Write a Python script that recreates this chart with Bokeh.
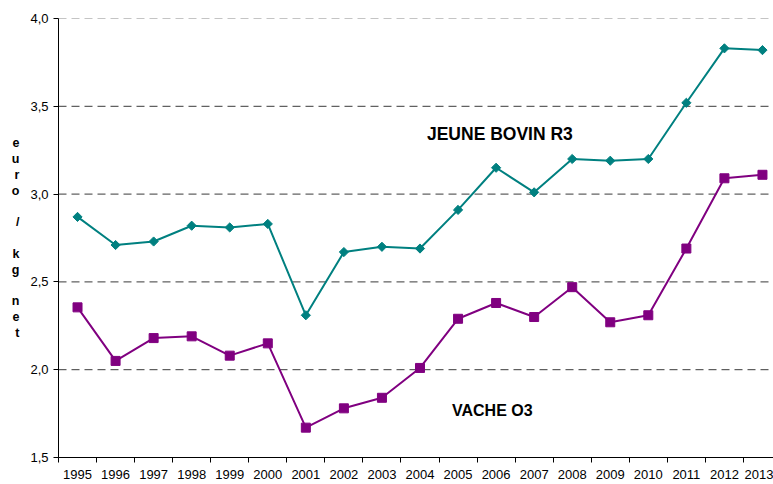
import math
from bokeh.plotting import figure
from bokeh.models import Range1d, FixedTicker, Span, Label, CustomJSTickFormatter
from bokeh.embed import file_html
from bokeh.resources import INLINE

# ---- data ----
years = list(range(1995, 2014))
jeune_bovin = [2.87, 2.71, 2.73, 2.82, 2.81, 2.83, 2.31, 2.67, 2.70, 2.69,
               2.91, 3.15, 3.01, 3.20, 3.19, 3.20, 3.52, 3.83, 3.82]
vache = [2.355, 2.05, 2.18, 2.19, 2.08, 2.15, 1.67, 1.78, 1.84, 2.01,
         2.29, 2.38, 2.30, 2.47, 2.27, 2.31, 2.69, 3.09, 3.11]
y_ticks = [1.5, 2.0, 2.5, 3.0, 3.5, 4.0]
series_names = ["JEUNE BOVIN R3", "VACHE O3"]
unit_label = "e\nu\nr\no\n \n/\n \nk\ng\n \nn\ne\nt"

FONT = "Liberation Sans"

p = figure(
    frame_width=715, frame_height=439,
    min_border_left=58, min_border_right=0, min_border_top=18, min_border_bottom=0,
    x_range=Range1d(years[0] - 0.5, 2013.29),
    y_range=Range1d(y_ticks[0], y_ticks[-1]),
    output_backend="svg", toolbar_location=None,
)
p.outline_line_color = None
p.background_fill_color = "white"
p.border_fill_color = "white"
p.xgrid.visible = False
p.ygrid.visible = False

# x axis: labels at years, ticks between categories
xa = p.xaxis[0]
xa.ticker = FixedTicker(ticks=years, minor_ticks=[y - 0.5 for y in years] + [years[-1] + 0.5])
xa.major_tick_out = 0
xa.major_tick_in = 0
xa.minor_tick_out = 5
xa.minor_tick_in = 0
xa.minor_tick_line_color = "black"
xa.axis_line_color = "black"
xa.major_label_standoff = 7
xa.major_label_text_font = FONT
xa.major_label_text_font_size = "13px"
xa.major_label_text_color = "black"

ya = p.yaxis[0]
ya.ticker = FixedTicker(ticks=y_ticks, minor_ticks=[])
ya.formatter = CustomJSTickFormatter(code="return tick.toFixed(1).replace('.', ',');")
ya.major_tick_out = 5
ya.major_tick_in = 0
ya.major_tick_line_color = "black"
ya.axis_line_color = "black"
ya.major_label_standoff = 5
ya.major_label_text_font = FONT
ya.major_label_text_font_size = "13px"
ya.major_label_text_color = "black"
ya.axis_label = unit_label
ya.axis_label_text_font = FONT
ya.axis_label_text_font_size = "12.5px"
ya.axis_label_text_font_style = "bold"
ya.axis_label_text_color = "black"
ya.axis_label_text_line_height = 1.13
ya.axis_label_standoff = 8
try:
    ya.axis_label_orientation = "horizontal"
except Exception:
    pass

# dashed gridlines
for t in y_ticks[1:]:
    col = "#8a8a8a" if t == y_ticks[-1] else "#3a3a3a"
    p.add_layout(Span(location=t, dimension="width", line_color=col,
                      line_dash="8 5", line_width=1, level="underlay"))

# series
p.line(years, jeune_bovin, line_color="#008080", line_width=2)
p.scatter(years, jeune_bovin, marker="square", angle=math.pi / 4, size=6.5,
          fill_color="#008080", line_color="#008080")
p.line(years, vache, line_color="#800080", line_width=2)
p.scatter(years, vache, marker="square", size=9, fill_color="#800080",
          line_color="#800080")

# series labels
p.add_layout(Label(x=2006.1, y=3.342, text=series_names[0], text_align="center",
                   text_baseline="middle", text_font=FONT, text_font_size="17.5px",
                   text_font_style="bold", text_color="black"))
p.add_layout(Label(x=2005.9, y=1.768, text=series_names[1], text_align="center",
                   text_baseline="middle", text_font=FONT, text_font_size="16px",
                   text_font_style="bold", text_color="black"))

open("out.html", "w").write(file_html(p, INLINE))
